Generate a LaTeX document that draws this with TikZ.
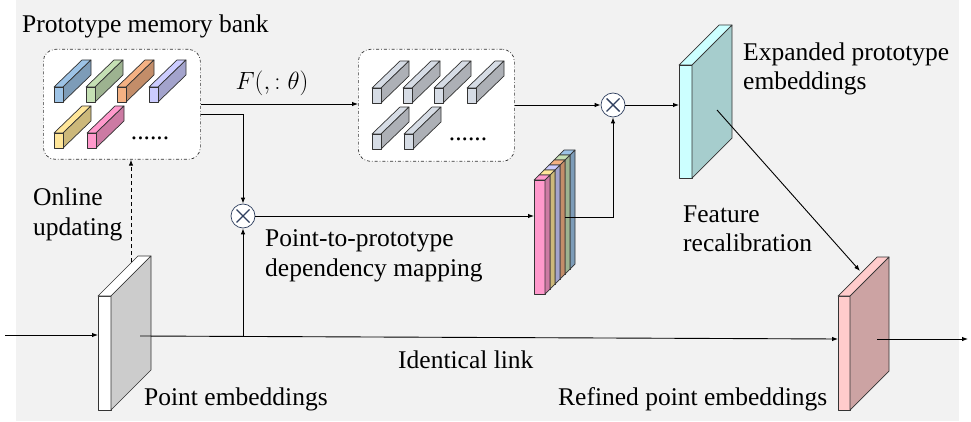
\documentclass[tikz,border=0pt]{standalone}
\usepackage{fontspec}
\setmainfont{Liberation Serif}
\usetikzlibrary{arrows.meta,calc}

\definecolor{bg}{HTML}{F2F2F2}
\definecolor{cblue}{HTML}{9DC3E6}   \definecolor{cblueS}{HTML}{7D9CB8}
\definecolor{cgreen}{HTML}{C5E0B4}  \definecolor{cgreenS}{HTML}{9DB390}
\definecolor{corange}{HTML}{F4B183} \definecolor{corangeS}{HTML}{C38D69}
\definecolor{clav}{HTML}{CCCCFF}    \definecolor{clavS}{HTML}{A3A3CC}
\definecolor{cyel}{HTML}{FFE699}    \definecolor{cyelS}{HTML}{CCB87A}
\definecolor{cpink}{HTML}{FF99CC}   \definecolor{cpinkS}{HTML}{CC7AA3}
\definecolor{cgray}{HTML}{D6DCE5}   \definecolor{cgrayS}{HTML}{ADB0B6}
\definecolor{ccyan}{HTML}{CCFFFF}   \definecolor{ccyanS}{HTML}{A6CDCD}
\definecolor{crose}{HTML}{FFCCCC}   \definecolor{croseS}{HTML}{CCA3A3}
\definecolor{cwhite}{HTML}{FFFFFF}  \definecolor{cwhiteS}{HTML}{CCCCCC}
\definecolor{ring}{HTML}{2F3F5F}

% small 3-D bar: front face at (#1,#2), colours #3 (front/top) and #4 (side)
\newcommand\cuboid[4]{%
  \filldraw[facet, fill=#3] (#1,#2) -- ++(28,-27) -- ++(9,0) -- (#1+9,#2) -- cycle;
  \filldraw[facet, fill=#4] (#1+9,#2) -- ++(28,-27) -- ++(0,15) -- (#1+9,#2+15) -- cycle;
  \filldraw[facet, fill=#3] (#1,#2) rectangle ++(9,15);
}
% flat slab: name, x, y, width, height, depth, front colour, side colour
\newcommand\slab[8]{%
  \node[facet, draw, fill=#7, minimum width=#4pt, minimum height=#5pt,
        inner sep=0pt, outer sep=0pt, anchor=north west] (#1) at (#2,#3) {};
  \filldraw[facet, fill=#7] (#1.north west) -- ++(#6,-#6) -- ++(#4,0) -- (#1.north east) -- cycle;
  \filldraw[facet, fill=#8] (#1.north east) -- ++(#6,-#6) -- ++(0,#5) -- (#1.south east) -- cycle;
}

\begin{document}
\begin{tikzpicture}[x=1pt,y=-1pt,
  facet/.style={draw=black!80, line width=0.7pt, line join=round},
  conn/.style={draw=black, line width=0.9pt},
  arr/.style={conn, -{Latex[length=6pt,width=4.5pt]}},
  membox/.style={draw=black!80, fill=white, line width=0.7pt, dash dot,
                 rounded corners=12pt, inner sep=0pt, anchor=north west},
  mult/.style={circle, draw=ring, fill=white, line width=0.7pt, minimum size=24pt,
               inner sep=0pt,
               path picture={\draw[line width=1.4pt]
                 ($(path picture bounding box.center)+(-6.5,-6.5)$) -- ++(13,13)
                 ($(path picture bounding box.center)+(-6.5,6.5)$) -- ++(13,-13);}},
  lbl/.style={font=\fontsize{25.5}{29.5}\selectfont, inner sep=0pt, align=left, anchor=base west}]

\useasboundingbox (0,0) rectangle (971,422);
\fill[bg] (16,0) rectangle (959,421);

% prototype memory bank
\node[membox, minimum width=157pt, minimum height=110pt] (bank) at (43,49) {};
\cuboid{54}{87}{cblue}{cblueS}
\cuboid{86}{87}{cgreen}{cgreenS}
\cuboid{117}{87}{corange}{corangeS}
\cuboid{149}{87}{clav}{clavS}
\cuboid{54}{133}{cyel}{cyelS}
\cuboid{87}{133}{cpink}{cpinkS}
\node[lbl, anchor=base] (dots1) at (150,140) {......};

% transformed prototypes
\node[membox, minimum width=156pt, minimum height=112pt] (fb) at (358,49) {};
\cuboid{372}{88}{cgray}{cgrayS}
\cuboid{403}{88}{cgray}{cgrayS}
\cuboid{434}{88}{cgray}{cgrayS}
\cuboid{467}{88}{cgray}{cgrayS}
\cuboid{372}{134}{cgray}{cgrayS}
\cuboid{404}{134}{cgray}{cgrayS}
\node[lbl, anchor=base] (dots2) at (468,141) {......};

% slabs
\slab{ps}{98}{296}{13}{114}{40}{cwhite}{cwhiteS}
\slab{es}{679}{65}{13}{113}{40}{ccyan}{ccyanS}
\slab{rs}{838}{296}{12}{114}{39}{crose}{croseS}
\foreach \k/\fc/\sc in {5/cblue/cblueS,4/cgreen/cgreenS,3/corange/corangeS,
                        2/clav/clavS,1/cyel/cyelS,0/cpink/cpinkS}
  {\slab{st\k}{534+5*\k}{180-5*\k}{11}{114}{5}{\fc}{\sc}}

% multiplication nodes
\node[mult] (m1) at (243,216) {};
\node[mult] (m2) at (613,105) {};

% connection points on the slabs
\coordinate (in)   at (5,335);
\coordinate (pso)  at (140,336);
\coordinate (psd)  at (131,262);
\coordinate (eso)  at (717,110);
\coordinate (rsi)  at (860,271);
\coordinate (rso)  at (877,339);
\coordinate (out)  at (968,339);
\coordinate (sto)  at (565,217);

% connectors
\draw[arr] (bank.east |- 0,104) -- (fb.west |- 0,104);
\draw[arr] (bank.east |- 0,114) -| (m1.north);
\draw[arr] (fb.east |- m2) -- (m2.west);
\draw[arr] (m2.east) -- (es.west |- m2);
\draw[arr] (eso) -- (rsi);
\draw[arr] (in) -- (ps.west |- in);
\draw[arr] (pso) -- (rs.west |- 0,339);
\draw[arr] (m1 |- 0,336.4) -- (m1.south);
\draw[arr] (m1.east) -- (st0.west |- m1);
\draw[arr] (sto) -| (m2.south);
\draw[arr] (rso) -- (out);
\draw[arr, dash pattern=on 4pt off 3pt] (psd) -- (bank.south -| psd);

% labels (two-line labels are placed by the baseline of their last line)
\node[lbl] (tbank) at (22,33) {Prototype memory bank};
\node[lbl, anchor=base] (tf) at (272,90) {$F(,:\theta)$};
\node[lbl] (tonline) at (33,235) {Online\\updating};
\node[lbl] (tmap) at (265,276) {Point-to-prototype\\dependency mapping};
\node[lbl] (texp) at (743,90) {Expanded prototype\\embeddings};
\node[lbl] (trecal) at (683,251.5) {Feature\\recalibration};
\node[lbl] (tid) at (398,368) {Identical link};
\node[lbl] (tpe) at (144,405.5) {Point embeddings};
\node[lbl] (trpe) at (558,405.5) {Refined point embeddings};
\end{tikzpicture}
\end{document}
